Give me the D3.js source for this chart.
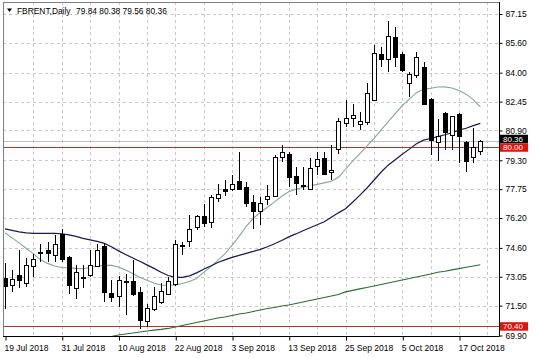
<!DOCTYPE html>
<html><head><meta charset="utf-8">
<script src="https://cdn.jsdelivr.net/npm/d3@7"></script>
<style>body{margin:0;background:#fff;} svg{display:block;font-family:"Liberation Sans",Arial,sans-serif;}</style>
</head><body><svg id="c" width="536" height="358"></svg>
<script>
const dates = ["2018-07-19","2018-07-20","2018-07-23","2018-07-24","2018-07-25","2018-07-26","2018-07-27","2018-07-30","2018-07-31",
"2018-08-01","2018-08-02","2018-08-03","2018-08-06","2018-08-07","2018-08-08","2018-08-09","2018-08-10",
"2018-08-13","2018-08-14","2018-08-15","2018-08-16","2018-08-17","2018-08-20","2018-08-21","2018-08-22","2018-08-23","2018-08-24",
"2018-08-27","2018-08-28","2018-08-29","2018-08-30","2018-08-31","2018-09-03","2018-09-04","2018-09-05","2018-09-06","2018-09-07",
"2018-09-10","2018-09-11","2018-09-12","2018-09-13","2018-09-14","2018-09-17","2018-09-18","2018-09-19","2018-09-20","2018-09-21",
"2018-09-24","2018-09-25","2018-09-26","2018-09-27","2018-09-28","2018-10-01","2018-10-02","2018-10-03","2018-10-04","2018-10-05",
"2018-10-08","2018-10-09","2018-10-10","2018-10-11","2018-10-12","2018-10-15","2018-10-16","2018-10-17","2018-10-18","2018-10-19","2018-10-22"];

const open  = [72.98,72.59,73.16,72.68,73.66,74.32,74.50,74.24,75.36,74.11,72.44,73.00,73.12,73.66,74.68,72.17,72.00,72.80,72.82,72.23,70.71,71.28,71.69,72.14,72.68,74.72,75.00,75.69,76.29,75.99,77.30,77.78,77.73,78.19,77.87,77.06,76.62,77.21,77.39,79.43,79.66,78.46,77.91,77.75,79.00,79.43,78.65,79.90,81.33,81.55,81.26,81.33,82.53,84.98,84.77,85.93,84.98,83.43,83.91,84.32,82.57,80.29,81.85,80.65,81.81,80.29,79.45,79.84];
const high  = [73.77,73.39,74.47,74.05,74.29,74.83,74.91,75.31,75.63,74.15,73.66,73.66,74.50,74.83,74.86,72.86,73.07,73.22,73.93,72.50,71.60,72.50,72.71,73.03,75.00,74.91,76.35,76.35,76.98,77.42,78.05,78.23,78.50,79.75,78.14,77.42,77.33,77.96,79.57,80.11,79.75,78.94,78.94,79.40,79.75,79.75,80.11,81.55,82.53,82.30,81.90,83.43,85.48,85.39,86.77,86.47,85.09,84.05,85.12,84.59,82.64,81.49,81.90,81.70,81.85,80.32,81.01,80.38];
const low   = [71.30,72.26,72.44,72.50,73.03,73.84,73.84,73.84,73.84,72.14,71.87,72.44,73.02,73.61,71.69,71.69,71.42,71.01,72.00,70.26,70.38,71.19,71.60,72.10,72.55,74.20,74.64,75.54,75.72,75.69,77.06,77.37,77.64,77.69,76.79,75.63,75.81,76.89,77.32,79.21,77.87,77.42,77.69,77.69,78.50,78.50,78.23,79.66,81.09,81.09,80.92,81.19,82.50,84.32,84.05,84.32,84.02,82.71,83.69,82.26,79.57,79.27,79.84,79.84,79.16,78.68,79.13,79.56];
const close = [72.55,72.91,72.91,73.66,74.02,74.36,74.34,74.83,74.02,72.59,73.30,73.05,73.66,74.50,72.23,71.96,72.86,72.84,72.14,70.74,71.39,72.00,72.28,72.82,74.83,74.76,75.63,76.29,75.90,77.33,77.51,77.65,78.01,77.78,77.01,76.58,77.03,77.39,79.48,79.72,78.41,78.11,77.95,78.89,79.36,78.59,78.76,81.40,81.58,81.72,81.40,82.89,85.04,84.73,85.98,84.86,84.14,83.91,84.86,82.35,80.38,80.59,80.82,81.67,80.65,79.27,79.99,80.36];

const maFast = [75.41,75.14,74.87,74.57,74.29,73.96,73.77,73.63,73.55,73.53,73.50,73.48,73.55,73.63,73.66,73.66,73.58,73.42,73.23,73.02,72.86,72.72,72.61,72.59,72.61,72.69,72.80,72.96,73.29,73.58,73.93,74.28,74.74,75.22,75.76,76.19,76.51,76.78,77.07,77.37,77.61,77.75,77.85,77.93,78.01,78.09,78.18,78.39,78.82,79.25,79.65,80.06,80.46,80.92,81.36,81.80,82.23,82.58,82.93,83.12,83.17,83.23,83.24,83.18,83.04,82.85,82.56,82.17];
const maMid = [75.62,75.54,75.46,75.41,75.38,75.38,75.38,75.38,75.36,75.30,75.22,75.11,75.03,74.95,74.84,74.66,74.44,74.25,74.06,73.88,73.69,73.50,73.29,73.12,73.02,73.02,73.10,73.26,73.45,73.63,73.82,73.96,74.09,74.20,74.31,74.41,74.52,74.66,74.82,75.00,75.19,75.35,75.52,75.68,75.84,76.00,76.24,76.48,76.70,77.05,77.42,77.80,78.23,78.66,79.04,79.33,79.63,79.90,80.19,80.38,80.47,80.57,80.67,80.78,80.92,81.02,81.16,81.28];
const maSlow = [null,null,null,null,null,null,null,null,null,null,null,null,null,69.71,69.79,69.85,69.93,69.98,70.03,70.09,70.14,70.19,70.23,70.28,70.36,70.44,70.52,70.60,70.68,70.76,70.84,70.89,70.97,71.05,71.11,71.19,71.27,71.35,71.40,71.48,71.54,71.62,71.70,71.78,71.86,71.94,72.02,72.10,72.24,72.32,72.40,72.48,72.56,72.64,72.72,72.80,72.88,72.96,73.04,73.12,73.20,73.29,73.35,73.42,73.49,73.56,73.63,73.70];

const priceTicks = [87.15,85.60,84.00,82.45,80.90,79.30,77.75,76.20,74.60,73.05,71.50,69.90];
const dateTicks = ["2018-07-19","2018-07-31","2018-08-10","2018-08-22","2018-09-03","2018-09-13","2018-09-25","2018-10-05","2018-10-17"];
const dateTickLabels = ["19 Jul 2018","31 Jul 2018","10 Aug 2018","22 Aug 2018","3 Sep 2018","13 Sep 2018","25 Sep 2018","5 Oct 2018","17 Oct 2018"];
const levelLines = [80.00, 70.40];
const title = "FBRENT,Daily";

const svg = d3.select("#c");
const L = 3, R = 499, T = 2, B = 336;
const x = d3.scaleLinear().domain([0, dates.length - 1]).range([5, 480.3]);
const y = d3.scaleLinear().domain([69.90, 87.15]).range([335.5, 14]);
const last = dates.length - 1;
const fmt = d3.format(".2f");

// grid
const gridIdx = d3.range(4, 72, 4).filter(i => x(i) < R - 2);
const grid = svg.append("g").attr("stroke", "#c8c8c8").attr("stroke-dasharray", "3,3").attr("shape-rendering", "crispEdges");
grid.selectAll("line.v").data(gridIdx).join("line").attr("class","v")
  .attr("x1", d => Math.round(x(d)) + 0.5).attr("x2", d => Math.round(x(d)) + 0.5)
  .attr("y1", T).attr("y2", B);
grid.selectAll("line.h").data(priceTicks).join("line").attr("class","h")
  .attr("x1", L).attr("x2", R)
  .attr("y1", d => Math.round(y(d)) + 0.5).attr("y2", d => Math.round(y(d)) + 0.5);

svg.append("clipPath").attr("id","pc").append("rect").attr("x",L).attr("y",T).attr("width",R-L).attr("height",B-T);
const plot = svg.append("g").attr("clip-path","url(#pc)");

// level lines
plot.selectAll("line.lvl").data(levelLines).join("line").attr("class","lvl")
  .attr("x1", L).attr("x2", R).attr("y1", d => Math.round(y(d)) + 0.5).attr("y2", d => Math.round(y(d)) + 0.5)
  .attr("stroke", "#a83838").attr("stroke-width", 1).attr("shape-rendering","crispEdges");
// bid line
plot.append("line").attr("x1", L).attr("x2", R)
  .attr("y1", Math.round(y(close[last])) + 0.5).attr("y2", Math.round(y(close[last])) + 0.5)
  .attr("stroke", "#c0c0c0").attr("shape-rendering","crispEdges");

// moving averages
const lineGen = arr => d3.line().defined(d => d != null).x((d,i) => x(i)).y(d => y(d))(arr);
plot.append("path").attr("d", lineGen(maSlow)).attr("fill","none").attr("stroke","#2f6b35").attr("stroke-width",1.1);
plot.append("path").attr("d", lineGen(maFast)).attr("fill","none").attr("stroke","#86a894").attr("stroke-width",1.1);
plot.append("path").attr("d", lineGen(maMid)).attr("fill","none").attr("stroke","#1b1b4d").attr("stroke-width",1.2);

// candles
const idx = d3.range(dates.length);
const cg = plot.append("g").attr("shape-rendering","crispEdges");
cg.selectAll("line.wick").data(idx).join("line").attr("class","wick")
  .attr("x1", i => Math.round(x(i)) + 0.5).attr("x2", i => Math.round(x(i)) + 0.5)
  .attr("y1", i => y(high[i])).attr("y2", i => y(low[i])).attr("stroke","#000");
cg.selectAll("rect.body").data(idx).join("rect").attr("class","body")
  .attr("x", i => Math.round(x(i)) - 1.5).attr("width", 4)
  .attr("y", i => Math.round(y(Math.max(open[i], close[i]))) + 0.5)
  .attr("height", i => Math.max(1, Math.round(Math.abs(y(open[i]) - y(close[i])))))
  .attr("fill", i => close[i] >= open[i] ? "#fff" : "#000").attr("stroke","#000");

// frame
svg.append("path").attr("d", `M${L+0.5},${B}V${T+0.5}H${R}`).attr("fill","none").attr("stroke","#808080").attr("shape-rendering","crispEdges");

// right axis
const ya = svg.append("g").attr("transform", `translate(${R+0.5},0)`)
  .call(d3.axisRight(y).tickValues(priceTicks).tickFormat(fmt).tickSizeOuter(0).tickSize(3).tickPadding(3));
ya.select(".domain").attr("stroke","#000").attr("d", `M0,${T}V${B+0.5}`);
ya.selectAll(".tick line").attr("stroke","#000");
ya.selectAll("text").attr("font-size","8.5px").attr("fill","#000").attr("font-family","Liberation Sans, Arial, sans-serif");

// bottom axis
const xa = svg.append("g").attr("transform", `translate(0,${B+0.5})`)
  .call(d3.axisBottom(x).tickValues(dateTicks.map(d => dates.indexOf(d)))
    .tickFormat((d,i) => dateTickLabels[i]).tickSizeOuter(0).tickSize(4).tickPadding(4));
xa.select(".domain").attr("stroke","#000").attr("d", `M${L},0H${R+0.5}`);
xa.selectAll(".tick line").attr("stroke","#000").attr("transform","translate(0.5,0)");
xa.selectAll("text").attr("font-size","8.5px").attr("fill","#000").attr("text-anchor","start")
  .attr("font-family","Liberation Sans, Arial, sans-serif").attr("dx", -1);

// price labels on right (bid box sits just above the 80.00 level box)
const bidY = y(close[last]);
const lvlY0 = y(levelLines[0]);
svg.append("rect").attr("x", R + 1).attr("y", lvlY0 - 12.5).attr("width", 28).attr("height", 8.5).attr("fill", "#000");
svg.append("text").attr("x", R + 4).attr("y", lvlY0 - 5.5).attr("font-size","8px").attr("fill","#fff").text(fmt(close[last]));
levelLines.forEach(v => {
  const cy = y(v);
  svg.append("rect").attr("x", R + 1).attr("y", cy - 4).attr("width", 28).attr("height", 8.5).attr("fill", "#e0140e");
  svg.append("text").attr("x", R + 4).attr("y", cy + 3.2).attr("font-size","8px").attr("fill","#fff").text(fmt(v));
});

// title
svg.append("path").attr("d","M7,8.5H12L9.5,12Z").attr("fill","#000");
const tt = svg.append("text").attr("y", 13.5).attr("font-size","8.4px").attr("fill","#000");
tt.append("tspan").attr("x", 17).text(title);
tt.append("tspan").attr("x", 76).text([open[last],high[last],low[last],close[last]].map(fmt).join(" "));
</script></body></html>
